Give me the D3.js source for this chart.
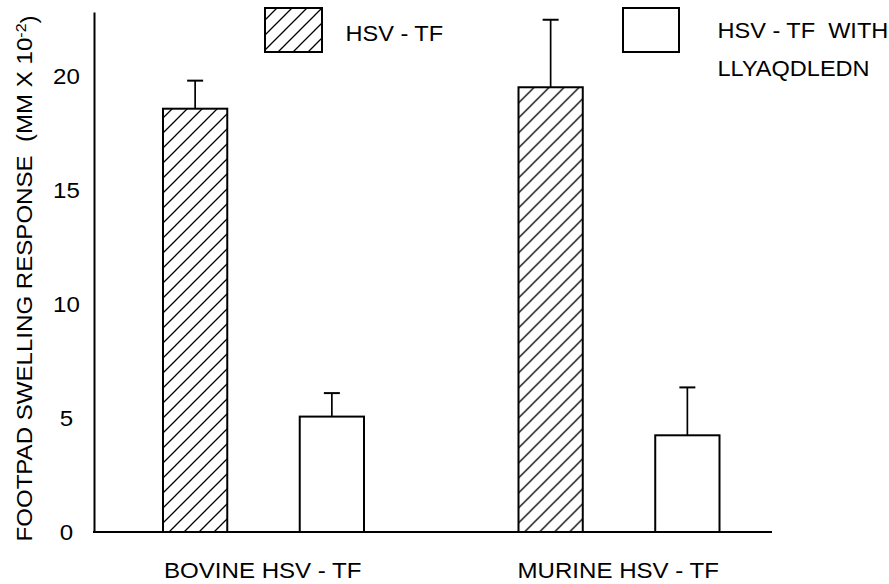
<!DOCTYPE html>
<html>
<head>
<meta charset="utf-8">
<script src="https://cdn.jsdelivr.net/npm/d3@7"></script>
<style>
  html, body { margin: 0; padding: 0; background: #fff; }
  svg text { font-family: "Liberation Sans", Arial, Helvetica, sans-serif; fill: #000; white-space: pre; }
</style>
</head>
<body>
<svg id="chart" width="889" height="584"></svg>
<script>
// ---- data ----
const groups = ["BOVINE HSV - TF", "MURINE HSV - TF"];
const series = ["HSV - TF", "HSV - TF WITH LLYAQDLEDN"];
const hsvTF = [18.56, 19.50];
const hsvTFErr = [1.23, 2.96];
const withPeptide = [5.06, 4.24];
const withPeptideErr = [1.03, 2.10];
const yTicks = [0, 5, 10, 15, 20];
const legendLines = [["HSV - TF"], ["HSV - TF  WITH", "LLYAQDLEDN"]];
const yTitle = "FOOTPAD SWELLING RESPONSE  (MM X 10";
const yTitleSup = "-2";
const yTitleEnd = ")";

// ---- layout ----
const svg = d3.select("#chart");
const stretch = 1.07;
const fs = 22.5;
const axisX = 94, baseY = 532, topY = 12, axisRight = 772;

const y = d3.scaleLinear().domain([0, 22.8]).range([baseY, topY]);
const x0 = d3.scaleBand().domain(groups).range([86, 797]);
const x1 = d3.scaleBand().domain(series).range([77, 278]).paddingInner(0.53);

const defs = svg.append("defs");
const pat = defs.append("pattern")
  .attr("id", "hatch").attr("patternUnits", "userSpaceOnUse")
  .attr("width", 15).attr("height", 15);
pat.append("path")
  .attr("d", "M0,15 L15,0 M-3.75,3.75 L3.75,-3.75 M11.25,18.75 L18.75,11.25")
  .attr("stroke", "#000").attr("stroke-width", 1.3);

const fills = ["url(#hatch)", "#fff"];

// rows of data
const rows = groups.map((g, i) => ({
  group: g,
  vals: [
    { s: series[0], v: hsvTF[i], e: hsvTFErr[i] },
    { s: series[1], v: withPeptide[i], e: withPeptideErr[i] }
  ]
}));

// ---- bars ----
const gGroups = svg.append("g").selectAll("g").data(rows).join("g")
  .attr("transform", d => `translate(${x0(d.group)},0)`);

gGroups.selectAll("line.err").data(d => d.vals).join("line")
  .attr("class", "err")
  .attr("x1", d => x1(d.s) + x1.bandwidth() / 2)
  .attr("x2", d => x1(d.s) + x1.bandwidth() / 2)
  .attr("y1", d => y(d.v)).attr("y2", d => y(d.v + d.e))
  .attr("stroke", "#000").attr("stroke-width", 1.7);

gGroups.selectAll("line.cap").data(d => d.vals).join("line")
  .attr("class", "cap")
  .attr("x1", d => x1(d.s) + x1.bandwidth() / 2 - 8)
  .attr("x2", d => x1(d.s) + x1.bandwidth() / 2 + 8)
  .attr("y1", d => y(d.v + d.e)).attr("y2", d => y(d.v + d.e))
  .attr("stroke", "#000").attr("stroke-width", 2);

gGroups.selectAll("rect").data(d => d.vals).join("rect")
  .attr("x", d => x1(d.s))
  .attr("width", x1.bandwidth())
  .attr("y", d => y(d.v))
  .attr("height", d => y(0) - y(d.v))
  .attr("fill", (d, i) => fills[i])
  .attr("stroke", "#000").attr("stroke-width", 2);

// ---- axes ----
const yAxis = svg.append("g")
  .attr("transform", `translate(${axisX},0)`)
  .call(d3.axisLeft(y).tickValues(yTicks).tickSize(0).tickSizeOuter(0).tickFormat(d3.format("d")));
yAxis.select(".domain").attr("stroke", "#000").attr("stroke-width", 2);
yAxis.selectAll(".tick text")
  .attr("x", 0).attr("dy", "0.35em")
  .attr("text-anchor", "middle")
  .attr("transform", `translate(-27.5,0) scale(${stretch},1)`)
  .style("font-size", fs + "px")
  .style("font-family", "'Liberation Sans', Arial, sans-serif")
  .attr("fill", "#000");

const xAxis = svg.append("g")
  .attr("transform", `translate(0,${baseY})`)
  .call(d3.axisBottom(x0).tickSize(0).tickSizeOuter(0));
xAxis.select(".domain").remove();
xAxis.selectAll(".tick text")
  .attr("y", 0).attr("dy", 0)
  .attr("text-anchor", "middle")
  .attr("transform", `translate(-1,46) scale(${stretch},1)`)
  .style("font-size", fs + "px")
  .style("font-family", "'Liberation Sans', Arial, sans-serif")
  .attr("fill", "#000");
svg.append("line")
  .attr("x1", axisX - 1).attr("x2", axisRight)
  .attr("y1", baseY).attr("y2", baseY)
  .attr("stroke", "#000").attr("stroke-width", 2);

// ---- y title ----
const yt = svg.append("text")
  .attr("transform", `translate(32.3,541.5) rotate(-90) scale(${stretch},1)`)
  .attr("text-anchor", "start")
  .style("font-size", fs + "px");
yt.append("tspan").text(yTitle);
yt.append("tspan").text(yTitleSup).attr("dy", "-0.45em").style("font-size", "15px");
yt.append("tspan").text(yTitleEnd).attr("dy", "0.45em");

// ---- legend ----
const legBoxes = [
  { x: 265, y: 8, w: 57, h: 44, tx: 345.5, ty: 40.5 },
  { x: 623, y: 8, w: 56, h: 44, tx: 717.5, ty: 37.5 }
];
series.forEach((s, i) => {
  const b = legBoxes[i];
  svg.append("rect")
    .attr("x", b.x).attr("y", b.y).attr("width", b.w).attr("height", b.h)
    .attr("fill", fills[i]).attr("stroke", "#000").attr("stroke-width", 2);
  legendLines[i].forEach((ln, j) => {
    svg.append("text")
      .attr("transform", `translate(${b.tx},${b.ty + j * 38}) scale(${stretch},1)`)
      .style("font-size", "22px")
      .text(ln);
  });
});
</script>
</body>
</html>
